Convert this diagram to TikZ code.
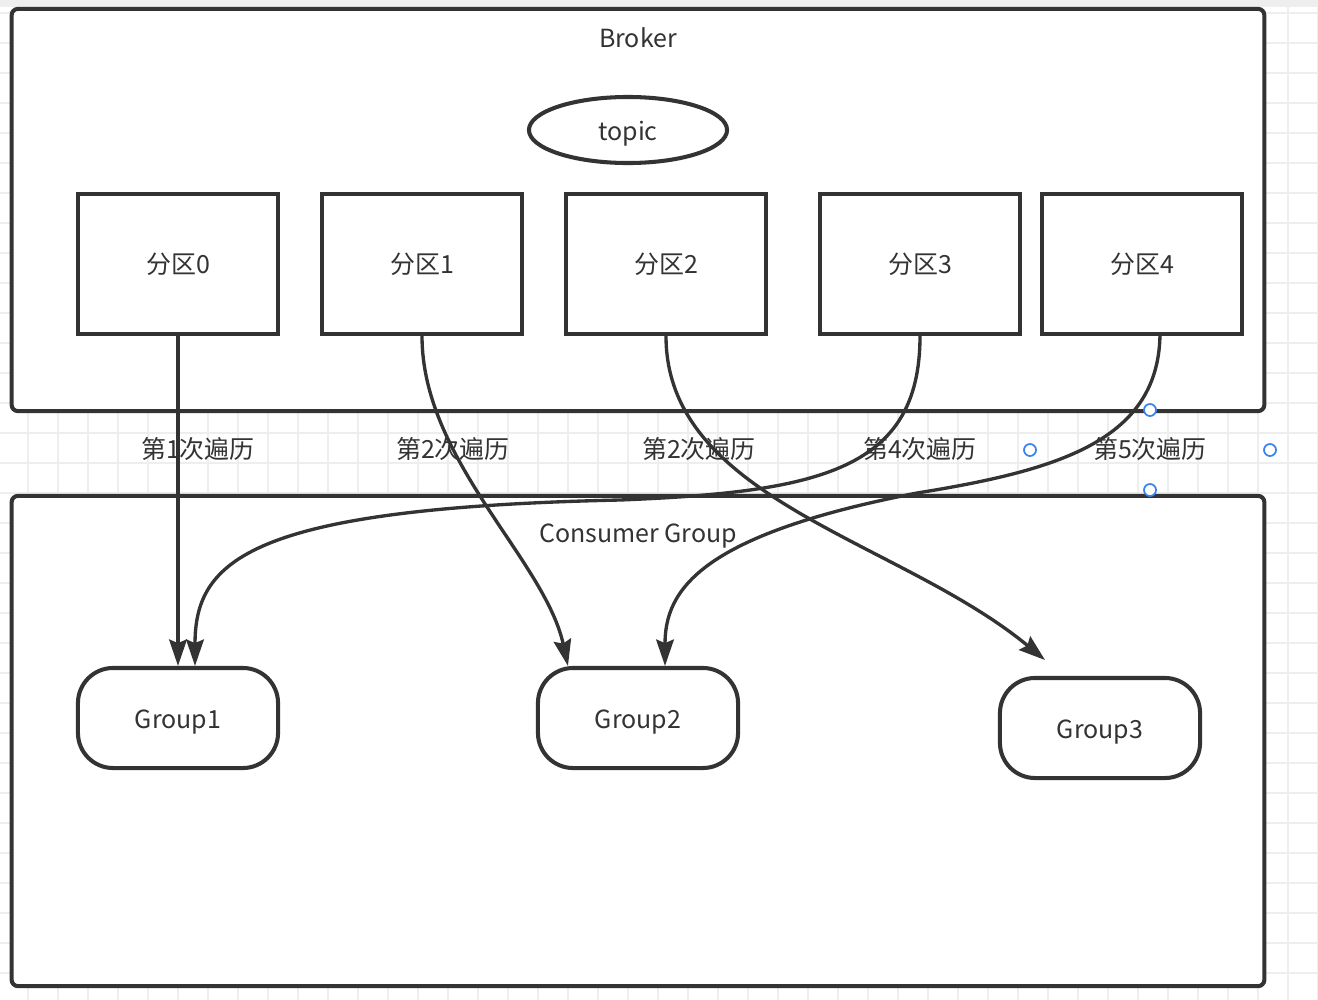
\documentclass[tikz,border=0pt]{standalone}
\usepackage{fontspec}
\setmainfont{Noto Sans CJK SC}
\usepackage{xcolor}
\usepackage{tikz}
\usetikzlibrary{shapes, arrows.meta, positioning}

\definecolor{linegray}{HTML}{333333}
\definecolor{gridgray}{HTML}{EEEEEE}
\definecolor{handleblue}{HTML}{3B82F0}

\begin{document}
\begin{tikzpicture}[
  x=0.01cm, y=-0.01cm,
  >={Stealth[length=7.5pt, width=5pt, inset=1pt]},
  every node/.style={font=\fontsize{7.1}{8}\selectfont, text=linegray},
  latin/.style={text height=0.72em, text depth=0.1em},
  panel/.style={rectangle, draw=linegray, line width=1.15pt, rounded corners=1.8pt, fill=white, minimum width=12.52cm},
  partition/.style={rectangle, draw=linegray, line width=1.15pt, fill=white, minimum width=2cm, minimum height=1.4cm, inner sep=0pt},
  group/.style={rectangle, draw=linegray, line width=1.15pt, rounded corners=10pt, fill=white, minimum width=2cm, minimum height=1cm, inner sep=0pt, latin},
  topicnode/.style={ellipse, draw=linegray, line width=1.15pt, fill=white, minimum width=1.98cm, minimum height=0.66cm, inner sep=0pt, latin},
  caption/.style={inner sep=0pt},
  handle/.style={circle, draw=handleblue, line width=0.5pt, fill=white, minimum size=0.12cm, inner sep=0pt},
  flow/.style={->, draw=linegray, line width=0.95pt},
]

  \useasboundingbox (0,0) rectangle (1318,1000);
  \fill[gridgray] (0,0) rectangle (1318,7);
  \foreach \gx in {28,58,...,1318}
    \draw[gridgray, line width=0.5pt] (\gx,0) -- (\gx,1000);
  \foreach \gy in {13,43,...,1000}
    \draw[gridgray, line width=0.5pt] (0,\gy) -- (1318,\gy);

  \node[panel, minimum height=4.02cm] (broker) at (638,210) {};
  \node[panel, minimum height=4.9cm] (consumers) at (638,741) {};
  \node[caption] (brokertitle) at (638,38) {Broker};
  \node[caption, latin] (consumertitle) at (638,532) {Consumer Group};

  \node[topicnode] (topic) at (628,130) {topic};

  \node[partition] (p0) at (178,264) {分区0};
  \node[partition] (p1) at (422,264) {分区1};
  \node[partition] (p2) at (666,264) {分区2};
  \node[partition] (p3) at (920,264) {分区3};
  \node[partition] (p4) at (1142,264) {分区4};

  \node[group] (g1) at (178,718) {Group1};
  \node[group] (g2) at (638,718) {Group2};
  \node[group] (g3) at (1100,728) {Group3};
  \coordinate (g3tip) at (1045,660);

  \draw[flow] (p0.south) -- (g1.north);
  \draw[flow] (p1.south) .. controls (422,460) and (545,560) .. ([xshift=-0.7cm]g2.north);
  \draw[flow] (p2.south) .. controls (666,500) and (900,540) .. (g3tip);
  \draw[flow] (p3.south) .. controls (920,470) and (820,492) .. (620,500)
    .. controls (250,508) and (195,560) .. ([xshift=0.17cm]g1.north);
  \draw[flow] ([xshift=0.18cm, yshift=0.04cm]p4.south) .. controls (1160,440) and (1060,470) .. (917,493)
    .. controls (700,535) and (665,590) .. ([xshift=0.27cm]g2.north);

  \node[caption] (pass1) at (198,449) {第1次遍历};
  \node[caption] (pass2) at (453,449) {第2次遍历};
  \node[caption] (pass3) at (699,449) {第2次遍历};
  \node[caption] (pass4) at (920,449) {第4次遍历};
  \node[caption] (pass5) at (1150,449) {第5次遍历};

  \node[handle] (htop) at (1150,410) {};
  \node[handle] (hleft) at (1030,450) {};
  \node[handle] (hright) at (1270,450) {};
  \node[handle] (hbottom) at (1150,490) {};

\end{tikzpicture}
\end{document}
